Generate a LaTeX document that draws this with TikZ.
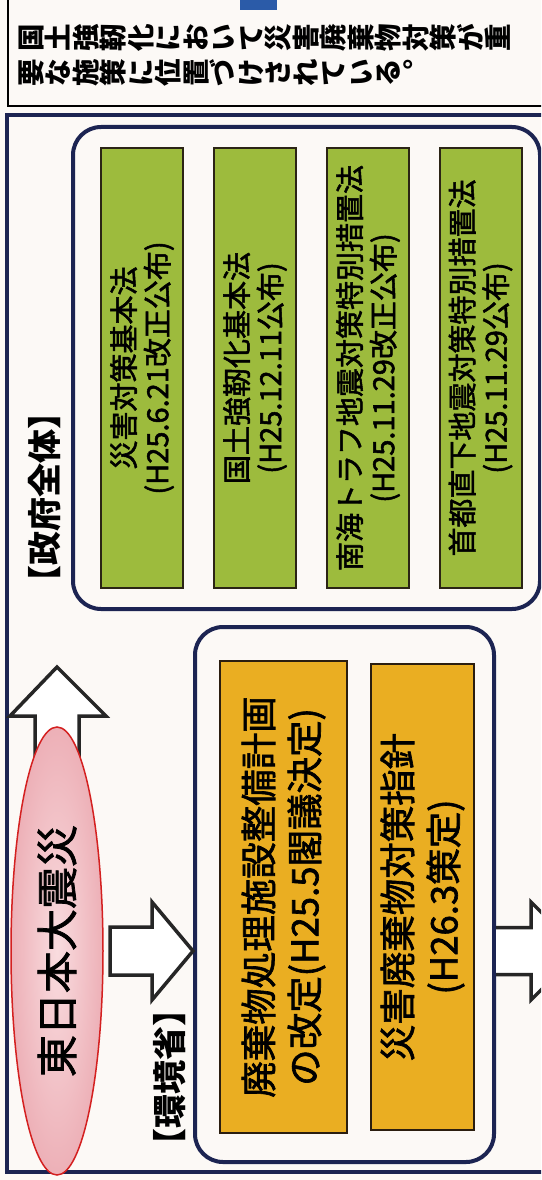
\documentclass[tikz,border=0pt]{standalone}
\usepackage{fontspec}
\usepackage{graphicx}
\setmainfont{Noto Sans CJK JP}
\newfontfamily\jpmid{Noto Sans CJK JP}[UprightFeatures={FakeBold=1.8}]
\usetikzlibrary{shapes.geometric,calc}
\definecolor{bg}{HTML}{FCF9F6}
\definecolor{navy}{HTML}{1C2452}
\definecolor{gfill}{HTML}{9DBB3D}
\definecolor{gline}{HTML}{2B2415}
\definecolor{ofill}{HTML}{EAAE22}
\definecolor{oline}{HTML}{2B1E10}
\definecolor{hblue}{HTML}{2B5BA8}
\definecolor{pinkin}{HTML}{F9DCDF}
\definecolor{pinkout}{HTML}{EDB0B7}
\definecolor{ered}{HTML}{D42020}
\newcommand\rotseq[1]{\rotseqi#1\relax}
\def\rotseqi#1{\ifx\relax#1\else\rotatebox[origin=c]{90}{\makebox[1em]{\rule[-0.12em]{0pt}{1em}#1}}\expandafter\rotseqi\fi}
\tikzset{
  gbox/.style={draw=gline, line width=2pt, fill=gfill, rotate=90, inner sep=0pt, align=center,
    minimum width=440pt, minimum height=82pt, font=\jpmid\fontsize{29}{33.5}\selectfont},
  obox/.style={draw=oline, line width=2.5pt, fill=ofill, rotate=90, inner sep=0pt, align=center,
    font=\jpmid\fontsize{36.5}{46}\selectfont},
  group/.style={draw=navy, line width=4pt, rounded corners=28pt, inner sep=0pt},
  lbl/.style={rotate=90, inner sep=0pt, font=\bfseries\fontsize{34}{34}\selectfont},
  blockarrow/.style={draw=black!85, line width=3.5pt, fill=white, line join=miter},
  hdr/.style={anchor=west, inner sep=0pt, font=\bfseries\fontsize{27.5}{34}\selectfont},
}
\begin{document}
\begin{tikzpicture}[x=1pt,y=-1pt]
\useasboundingbox (0,0) rectangle (541,1180);
\clip (0,0) rectangle (541,1180);
\fill[bg] (0,0) rectangle (541,1180);
% header box
\draw[line width=1.5pt, fill=bg] (8,-20) rectangle (580,106);
\fill[hblue] (240,-5) rectangle (277,10);
\node[hdr] (hdr1) at (17,38) {\rotseq{国土強靭化において災害廃棄物対策が重}};
\node[hdr] (hdr2) at (17,73) {\rotseq{要な施策に位置づけされている︒}};
% outer frame
\draw[navy, line width=4pt] (7,115) rectangle (620,1172);
% government group
\node[group, minimum width=467pt, minimum height=482pt] (gov) at (306.5,368) {};
\node[lbl] (govlbl) at (45,497.5) {【政府全体】};
\node[gbox] (g1) at (142,368) {災害対策基本法\\(H25.6.21改正公布)};
\node[gbox] (g2) at (255,368) {国土強靭化基本法\\(H25.12.11公布)};
\node[gbox] (g3) at (368,368) {南海トラフ地震対策特別措置法\\(H25.11.29改正公布)};
\node[gbox] (g4) at (480.5,368) {首都直下地震対策特別措置法\\(H25.11.29公布)};
% environment ministry group
\node[group, minimum width=299pt, minimum height=535pt] (env) at (344.5,894.5) {};
\node[lbl] (envlbl) at (170,1077) {【環境省】};
\node[obox, minimum width=472pt, minimum height=127pt] (o1) at (283.5,897) {廃棄物処理施設整備計画\\の改定(H25.5閣議決定)};
\node[obox, minimum width=466pt, minimum height=103pt] (o2) at (422.5,897) {災害廃棄物対策指針\\(H26.3策定)};
% up arrow (behind the ellipse)
\coordinate (uptip) at (57,667);
\draw[blockarrow] ($(uptip)+(-22,130)$) -- ($(uptip)+(-22,49)$) -- ($(uptip)+(-47,49)$) -- (uptip)
  -- ($(uptip)+(49,49)$) -- ($(uptip)+(22,49)$) -- ($(uptip)+(22,130)$);
% Great East Japan Earthquake ellipse
\node[ellipse, rotate=90, minimum width=448pt, minimum height=92pt, inner sep=0pt,
  draw=ered, line width=1.5pt, inner color=pinkin, outer color=pinkout,
  font=\jpmid\fontsize{42}{42}\selectfont] (eq) at (57,951) {東日本大震災};
% arrow ellipse -> environment ministry
\coordinate (a1tip) at (env.west |- eq.center);
\draw[blockarrow] ($(a1tip)+(-83,-24)$) -- ($(a1tip)+(-41,-24)$) -- ($(a1tip)+(-41,-49)$) -- (a1tip)
  -- ($(a1tip)+(-41,49)$) -- ($(a1tip)+(-41,24)$) -- ($(a1tip)+(-83,24)$) -- cycle;
% arrow leaving environment ministry to the right
\coordinate (a2base) at (env.east |- eq.center);
\draw[blockarrow] ($(a2base)+(0,-23.5)$) -- ($(a2base)+(35,-23.5)$) -- ($(a2base)+(35,-49)$) -- ($(a2base)+(84,0)$)
  -- ($(a2base)+(35,49)$) -- ($(a2base)+(35,23.5)$) -- ($(a2base)+(0,23.5)$);
\end{tikzpicture}
\end{document}
